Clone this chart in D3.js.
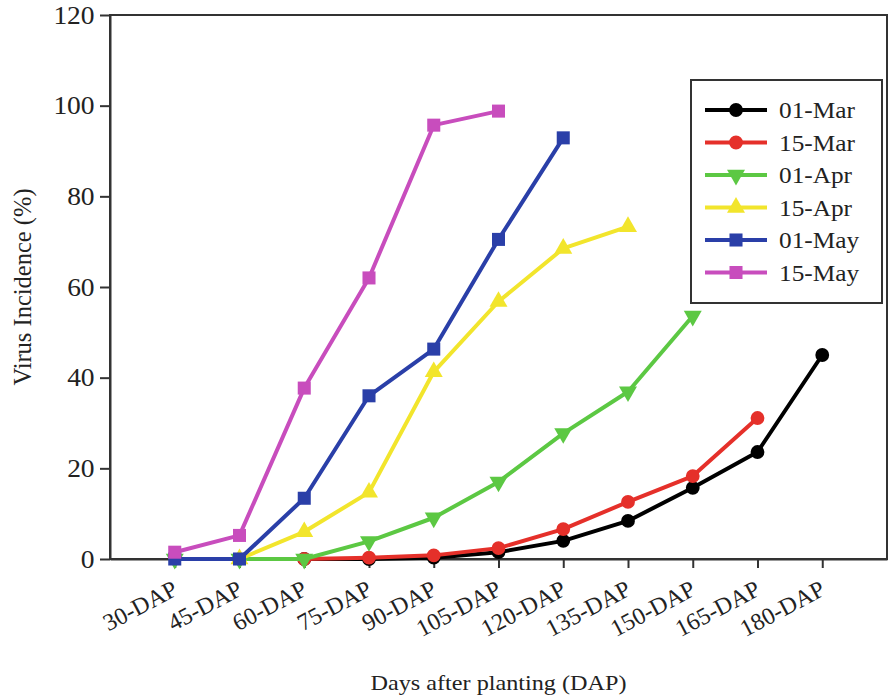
<!DOCTYPE html>
<html>
<head>
<style>
  body { margin: 0; background: #fff; }
  text { font-family: "Liberation Serif", "Times New Roman", serif; fill: #222; }
</style>
</head>
<body>
<svg width="889" height="696"></svg>
<script src="https://d3js.org/d3.v7.min.js"></script>
<script>

// days after planting, one column per sampling date
var categories = ["30-DAP", "45-DAP", "60-DAP", "75-DAP", "90-DAP", "105-DAP", "120-DAP", "135-DAP", "150-DAP", "165-DAP", "180-DAP"];

// virus incidence (%) per planting date, null = not sampled
var mar01 = [null, null, 0, 0, 0.3, 1.5, 4.0, 8.4, 15.7, 23.6, 45.0];
var mar15 = [null, null, 0, 0.3, 0.8, 2.4, 6.6, 12.6, 18.3, 31.1, null];
var apr01 = [0, 0, 0, 3.9, 9.1, 17.0, 27.7, 36.9, 53.6, null, null];
var apr15 = [null, 0, 6.0, 14.7, 41.3, 56.8, 68.5, 73.3, null, null, null];
var may01 = [0, 0, 13.4, 36.0, 46.3, 70.5, 92.9, null, null, null, null];
var may15 = [1.5, 5.2, 37.7, 62.0, 95.7, 98.8, null, null, null, null, null];

var seriesNames = ["01-Mar", "15-Mar", "01-Apr", "15-Apr", "01-May", "15-May"];
var yTicks = [0, 20, 40, 60, 80, 100, 120];

var colors = ["#000000", "#e5302a", "#5cc843", "#f2e52c", "#2a3fa8", "#c84dbd"];
var shapes = ["circle", "circle", "down", "up", "square", "square"];

var svg = d3.select("svg"),
  margin = {top: 15, right: 2, bottom: 137, left: 110},
  width = +svg.attr("width") - margin.left - margin.right,
  height = +svg.attr("height") - margin.top - margin.bottom,
  g = svg.append("g").attr("transform", "translate(" + margin.left + "," + margin.top + ")");

var stretch = "scale(1.1,1)";

var x = d3.scalePoint().domain(categories).range([0, width]).padding(1),
  y = d3.scaleLinear().domain([0, 120]).range([height, 0]);

var sources = [mar01, mar15, apr01, apr15, may01, may15].map(function(vals, i) {
  return {
    id: seriesNames[i],
    color: colors[i],
    shape: shapes[i],
    values: vals.map(function(v, j) { return {cat: categories[j], v: v}; })
  };
});

function symbolPath(shape) {
  if (shape == "circle") return d3.symbol().type(d3.symbolCircle).size(150)();
  if (shape == "square") return d3.symbol().type(d3.symbolSquare).size(170)();
  return d3.symbol().type(d3.symbolTriangle).size(140)();
}
function symbolRot(shape) {
  return shape == "down" ? " rotate(180)" : "";
}

// frame (top & right)
g.append("rect")
    .attr("width", width)
    .attr("height", height)
    .attr("fill", "none")
    .attr("stroke", "#333")
    .attr("stroke-width", 2);

var xAxis = g.append("g")
    .attr("class", "axis axis--x")
    .attr("transform", "translate(0," + height + ")")
    .call(d3.axisBottom(x).tickSize(9).tickSizeOuter(0));

xAxis.selectAll("text")
    .attr("x", 0).attr("y", 0).attr("dy", 0)
    .attr("text-anchor", "end")
    .attr("transform", "translate(4,35) rotate(-28)")
    .style("font-size", "24px");

var yAxis = g.append("g")
    .attr("class", "axis axis--y")
    .call(d3.axisLeft(y).tickValues(yTicks).tickSize(10).tickSizeOuter(0).tickPadding(4));

yAxis.selectAll("text")
    .attr("transform", stretch)
    .style("font-size", "25px");

g.selectAll(".axis path, .axis line").attr("stroke", "#333").attr("stroke-width", 2);
g.selectAll(".axis text").attr("fill", "#222");

svg.append("text")
    .attr("transform", "translate(31," + (margin.top + height / 2) + ") rotate(-90)")
    .attr("text-anchor", "middle")
    .style("font-size", "24.5px")
    .text("Virus Incidence (%)");

svg.append("text")
    .attr("transform", "translate(" + (margin.left + width / 2) + ",690) " + stretch)
    .attr("text-anchor", "middle")
    .style("font-size", "22px")
    .text("Days after planting (DAP)");

var line = d3.line()
  .defined(function(d) { return d.v != null; })
  .x(function(d) { return x(d.cat); })
  .y(function(d) { return y(d.v); });

var source = g.selectAll(".series")
    .data(sources)
    .enter().append("g")
    .attr("class", "series");

source.append("path")
    .attr("d", function(d) { return line(d.values); })
    .attr("fill", "none")
    .attr("stroke", function(d) { return d.color; })
    .attr("stroke-width", 4)
    .attr("stroke-linejoin", "round");

source.each(function(s) {
  d3.select(this).selectAll(".mark")
      .data(s.values.filter(function(d) { return d.v != null; }))
      .enter().append("path")
      .attr("class", "mark")
      .attr("d", symbolPath(s.shape))
      .attr("transform", function(d) { return "translate(" + x(d.cat) + "," + y(d.v) + ")" + symbolRot(s.shape); })
      .attr("fill", s.color);
});

// legend
var legend = svg.append("g").attr("transform", "translate(691,80)");
legend.append("rect")
    .attr("width", 191)
    .attr("height", 223)
    .attr("fill", "#fff")
    .attr("stroke", "#333")
    .attr("stroke-width", 2);

var row = legend.selectAll(".row")
    .data(sources)
    .enter().append("g")
    .attr("class", "row")
    .attr("transform", function(d, i) { return "translate(0," + (30 + i * 32.5) + ")"; });

row.append("line")
    .attr("x1", 14).attr("x2", 76)
    .attr("stroke", function(d) { return d.color; })
    .attr("stroke-width", 4);

row.append("path")
    .attr("d", function(d) { return symbolPath(d.shape); })
    .attr("transform", function(d) { return "translate(45,0)" + symbolRot(d.shape); })
    .attr("fill", function(d) { return d.color; });

row.append("text")
    .attr("transform", "translate(88,8) " + stretch)
    .style("font-size", "23px")
    .text(function(d) { return d.id; });

</script>
</body>
</html>
